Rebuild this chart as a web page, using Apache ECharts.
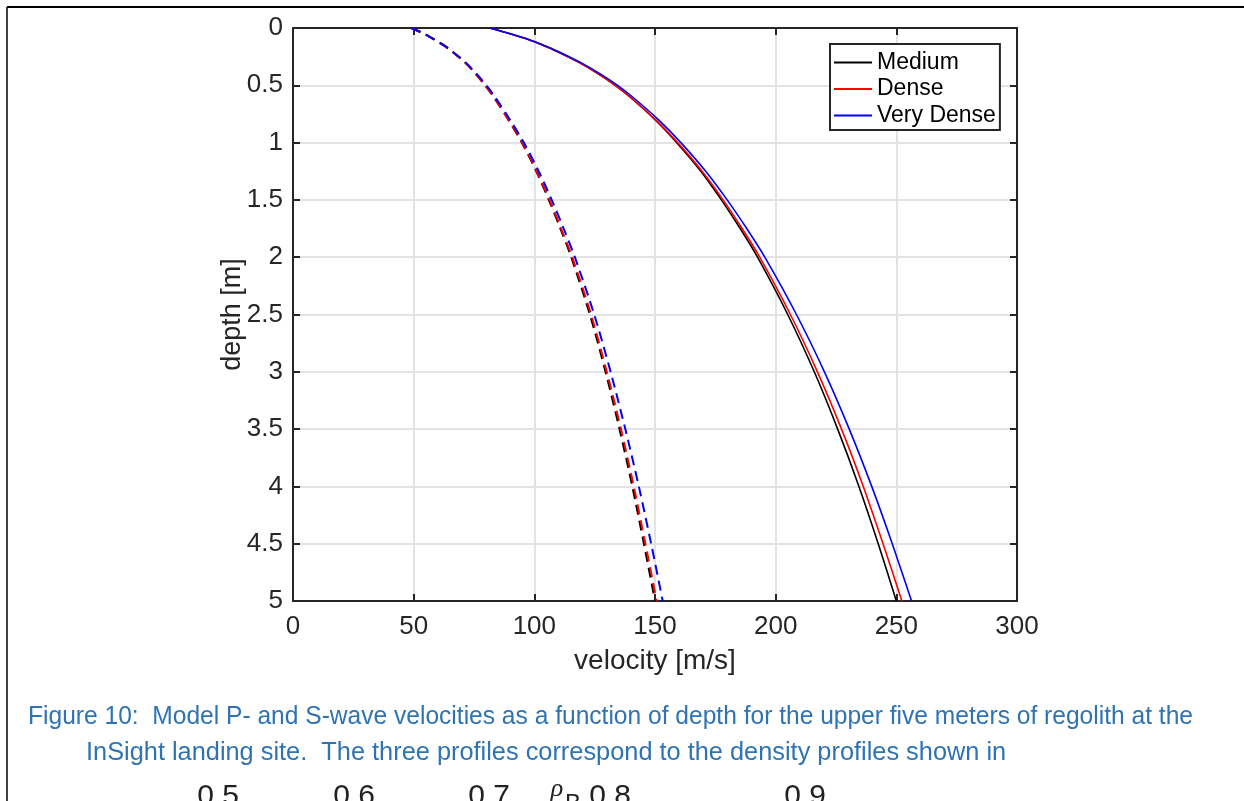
<!DOCTYPE html>
<html>
<head>
<meta charset="utf-8">
<script src="https://cdn.jsdelivr.net/npm/echarts@6/dist/echarts.min.js"></script>
<style>
  html, body { margin: 0; padding: 0; background: #fff; }
  #chart { width: 1244px; height: 801px; }
</style>
</head>
<body>
<div id="chart"></div>
<script>
// Depth samples [m] and velocity profiles [m/s]
const depth = [0, 0.05, 0.1, 0.15, 0.2, 0.3, 0.4, 0.5, 0.6, 0.8, 1, 1.25, 1.5, 1.75, 2, 2.5, 3, 3.5, 4, 4.5, 5];

// P-wave (solid)
const vpMedium    = [81.5, 90, 97.5, 103.5, 109, 118.5, 126.5, 133.5, 139.5, 150, 159, 169, 177.5, 185.3, 192.5, 205, 216, 225.7, 234.5, 242.5, 250];
const vpDense     = [81.5, 90, 97.5, 103.5, 109, 118.5, 126.5, 133.5, 139.6, 150.2, 159.4, 169.5, 178.2, 186.1, 193.4, 206.1, 217.3, 227.3, 236.3, 244.5, 252.3];
const vpVeryDense = [81.5, 90.1, 97.7, 103.8, 109.4, 119.1, 127.3, 134.5, 140.6, 151.4, 160.7, 171, 179.9, 188, 195.5, 208.6, 220.2, 230.5, 239.8, 248.3, 256.3];

// S-wave (dashed)
const vsMedium    = [49, 54.3, 58.5, 62.3, 65.6, 71.2, 75.7, 79.6, 83.1, 89.2, 94.8, 100.8, 106, 110.8, 115.3, 123, 129.5, 135.3, 140.6, 145.4, 150];
const vsDense     = [49, 54.3, 58.5, 62.3, 65.6, 71.2, 75.7, 79.6, 83.1, 89.3, 95, 101, 106.3, 111.1, 115.7, 123.5, 130, 135.9, 141.2, 146, 150.7];
const vsVeryDense = [49, 54.35, 58.6, 62.45, 65.8, 71.5, 76.1, 80.1, 83.65, 89.9, 95.65, 101.8, 107.2, 112.15, 116.8, 124.8, 131.6, 137.7, 143.3, 148.4, 153.2];

const profileNames = ['Medium', 'Dense', 'Very Dense'];
const profileColors = ['#000000', '#ff0000', '#0000ff'];

const xTicks = { min: 0, max: 300, step: 50 };
const yTicks = { min: 0, max: 5, step: 0.5 };

const captionLines = [
  'Figure 10:  Model P- and S-wave velocities as a function of depth for the upper five meters of regolith at the',
  'InSight landing site.  The three profiles correspond to the density profiles shown in'
];
const nextFigureTicks = ['0.5', '0.6', '0.7', '0.8', '0.9'];

const axisFont = '"Liberation Sans", Arial, Helvetica, sans-serif';
const axisColor = '#262626';
const captionFont = '26px "Liberation Sans", Arial, sans-serif';
const nextFont = '30px "Liberation Sans", Arial, sans-serif';

function pairs(vals) { return depth.map((d, i) => [vals[i], d]); }

const solid = [vpMedium, vpDense, vpVeryDense];
const dashed = [vsMedium, vsDense, vsVeryDense];

const series = [];
solid.forEach((vals, i) => {
  series.push({
    name: profileNames[i], type: 'line', data: pairs(vals),
    showSymbol: false, symbol: 'none', smooth: 0.3,
    lineStyle: { color: profileColors[i], width: 1.6 },
    itemStyle: { color: profileColors[i] },
    z: 3 + i
  });
});
dashed.forEach((vals, i) => {
  series.push({
    name: profileNames[i] + ' (S)', type: 'line', data: pairs(vals),
    showSymbol: false, symbol: 'none', smooth: 0.3,
    lineStyle: { color: profileColors[i], width: 2, type: [10, 6] },
    itemStyle: { color: profileColors[i] },
    z: 3 + i
  });
});

function frameAxis(pos, isX) {
  const lim = isX ? xTicks : yTicks;
  return {
    type: 'value', position: pos, min: lim.min, max: lim.max, interval: lim.step,
    inverse: !isX,
    axisLine: { show: true, onZero: false, lineStyle: { color: axisColor, width: 2 } },
    axisTick: { show: true, inside: true, length: 7, lineStyle: { color: axisColor, width: 2 } },
    axisLabel: { show: false },
    splitLine: { show: false }
  };
}

function nextTick(text, x) {
  return { type: 'text', x: x, y: 797, style: { text: text, fill: '#222', font: nextFont,
    textAlign: 'center', textVerticalAlign: 'middle' } };
}

const chart = echarts.init(document.getElementById('chart'), null, { renderer: 'canvas' });

chart.setOption({
  animation: false,
  backgroundColor: '#ffffff',
  grid: { left: 293, top: 28, width: 724, height: 573, containLabel: false },
  xAxis: [
    {
      type: 'value', position: 'bottom', min: xTicks.min, max: xTicks.max, interval: xTicks.step,
      name: 'velocity [m/s]', nameLocation: 'middle', nameGap: 46, nameMoveOverlap: false,
      nameTextStyle: { fontFamily: axisFont, fontSize: 28, color: axisColor },
      axisLine: { show: true, onZero: false, lineStyle: { color: axisColor, width: 2 } },
      axisTick: { show: true, inside: true, length: 7, lineStyle: { color: axisColor, width: 2 } },
      axisLabel: { margin: 13, fontFamily: axisFont, fontSize: 26, color: axisColor },
      splitLine: { show: true, lineStyle: { color: '#e3e3e3', width: 2 } }
    },
    frameAxis('top', true)
  ],
  yAxis: [
    {
      type: 'value', position: 'left', inverse: true, min: yTicks.min, max: yTicks.max, interval: yTicks.step,
      name: 'depth [m]', nameLocation: 'middle', nameGap: 47, nameRotate: 90, nameMoveOverlap: false,
      nameTextStyle: { fontFamily: axisFont, fontSize: 27, color: axisColor },
      axisLine: { show: true, onZero: false, lineStyle: { color: axisColor, width: 2 } },
      axisTick: { show: true, inside: true, length: 7, lineStyle: { color: axisColor, width: 2 } },
      axisLabel: { margin: 10, fontFamily: axisFont, fontSize: 26, color: axisColor },
      splitLine: { show: true, lineStyle: { color: '#e3e3e3', width: 2 } }
    },
    frameAxis('right', false)
  ],
  legend: {
    data: profileNames,
    orient: 'vertical', left: 830, top: 44,
    itemWidth: 38, itemHeight: 20, itemGap: 3.5,
    padding: [7, 4, 3, 3],
    borderColor: axisColor, borderWidth: 2, backgroundColor: '#ffffff',
    selectedMode: false,
    itemStyle: { opacity: 0 },
    textStyle: { fontFamily: axisFont, fontSize: 23, color: '#000000' }
  },
  series: series,
  graphic: [
    // page frame
    { type: 'line', shape: { x1: 7, y1: 7, x2: 1244, y2: 7 }, style: { stroke: '#000', lineWidth: 2 } },
    { type: 'line', shape: { x1: 7, y1: 7, x2: 7, y2: 801 }, style: { stroke: '#000', lineWidth: 1.5 } },
    // caption
    { type: 'text', x: 28, y: 717, scaleX: 0.945, style: { text: captionLines[0], fill: '#2e74b5',
      font: captionFont, textVerticalAlign: 'middle' } },
    { type: 'text', x: 86, y: 753, scaleX: 0.975, style: { text: captionLines[1], fill: '#2e74b5',
      font: captionFont, textVerticalAlign: 'middle' } },
    // tick labels of the following figure, cut at the page edge
    nextTick(nextFigureTicks[0], 218),
    nextTick(nextFigureTicks[1], 354),
    nextTick(nextFigureTicks[2], 489),
    { type: 'text', x: 557, y: 789, style: { text: 'ρ', fill: '#222', font: 'italic 26px "Liberation Serif", serif', textAlign: 'center', textVerticalAlign: 'middle' } },
    { type: 'text', x: 573, y: 804, style: { text: 'B', fill: '#222', font: '24px "Liberation Sans", Arial, sans-serif', textAlign: 'center', textVerticalAlign: 'middle' } },
    nextTick(nextFigureTicks[3], 610),
    nextTick(nextFigureTicks[4], 805)
  ]
});
</script>
</body>
</html>
